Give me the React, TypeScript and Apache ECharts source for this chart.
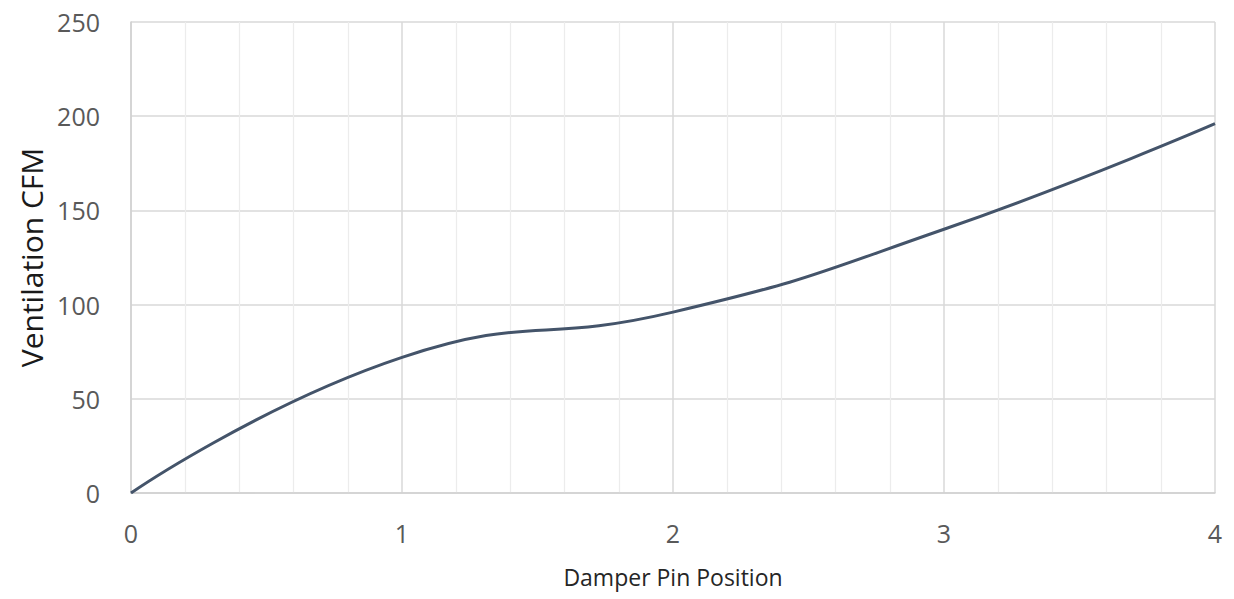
import React, { useEffect, useRef } from "react";
import * as echarts from "echarts";

const positions = [0, 1, 2, 3, 4];
const cfm = [0, 72, 96, 140, 196];
const yTicks = [0, 50, 100, 150, 200, 250];

const FONT = "'Open Sans', 'Noto Sans', sans-serif";

export default function App() {
  const ref = useRef<HTMLDivElement>(null);
  useEffect(() => {
    if (!ref.current) return;
    const chart = echarts.init(ref.current, undefined, { renderer: "svg" });
    chart.setOption({
      animation: false,
      backgroundColor: "#ffffff",
      grid: { left: 131, right: 19, top: 22, bottom: 106 },
      xAxis: {
        type: "value",
        min: 0,
        max: 4,
        interval: 1,
        name: "Damper Pin Position",
        nameLocation: "middle",
        nameGap: 72,
        nameTextStyle: { fontFamily: FONT, fontSize: 23, color: "#262626" },
        axisLine: { show: true, lineStyle: { color: "#d0d0d0", width: 1.5 } },
        axisTick: { show: false },
        axisLabel: { fontFamily: FONT, fontSize: 25, color: "#595959", margin: 27 },
        splitLine: { show: true, lineStyle: { color: "#d9d9d9", width: 1.5 } },
        minorTick: { show: false, splitNumber: 5 },
        minorSplitLine: { show: true, lineStyle: { color: "#ececec", width: 1.2 } },
      },
      yAxis: {
        type: "value",
        min: yTicks[0],
        max: yTicks[yTicks.length - 1],
        interval: 50,
        name: "Ventilation CFM",
        nameLocation: "middle",
        nameGap: 82,
        nameTextStyle: { fontFamily: FONT, fontSize: 30, color: "#1a1a1a" },
        axisLine: { show: true, lineStyle: { color: "#d0d0d0", width: 1.5 } },
        axisTick: { show: false },
        axisLabel: { fontFamily: FONT, fontSize: 25, color: "#595959", margin: 31 },
        splitLine: { show: true, lineStyle: { color: "#d9d9d9", width: 1.5 } },
      },
      series: [
        {
          type: "line",
          data: positions.map((p, i) => [p, cfm[i]]),
          smooth: 0.5,
          symbol: "none",
          lineStyle: { color: "#44546a", width: 3 },
        },
      ],
    });
    return () => chart.dispose();
  }, []);
  return (
    <div
      ref={ref}
      style={{ position: "fixed", left: 0, top: 0, width: 1234, height: 599, background: "#fff" }}
    />
  );
}
